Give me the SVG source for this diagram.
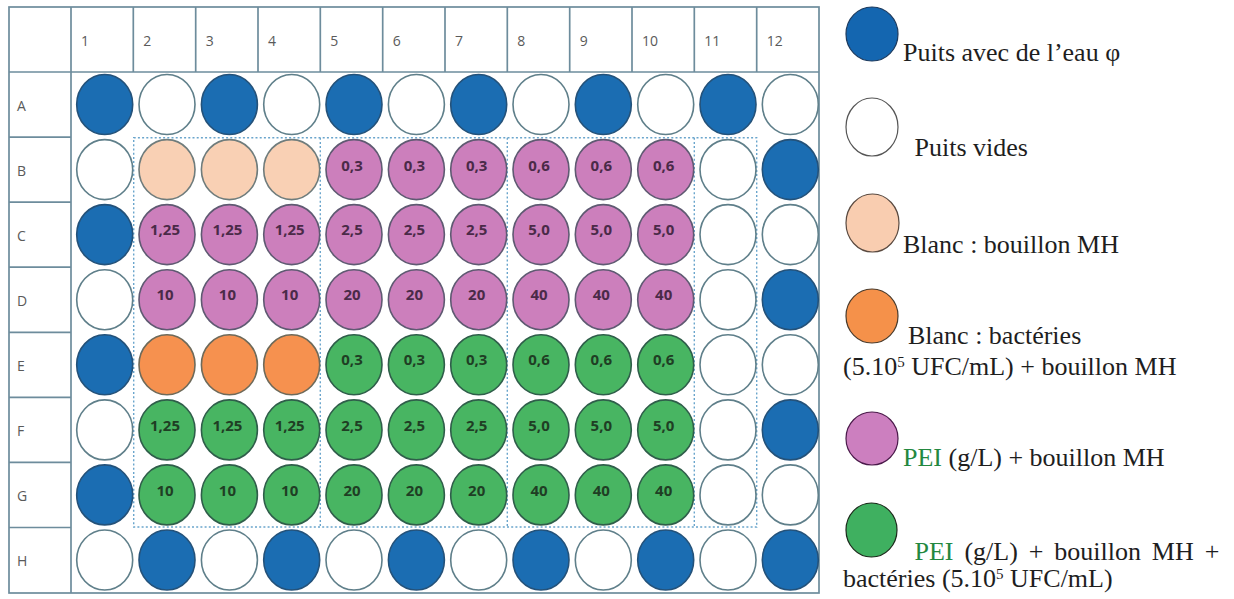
<svg xmlns="http://www.w3.org/2000/svg" width="1234" height="599" viewBox="0 0 1234 599">
<style>
.grid{stroke:#6d8c9c;stroke-width:1.7;fill:none}
.dot{stroke:#6aa5cc;stroke-width:1.4;stroke-dasharray:2 2.2;fill:none}
.lbl{font-family:"Open Sans","Liberation Sans",sans-serif;font-size:14px;fill:#5a5a5a}
.w{stroke-width:1.6}
.e{fill:#ffffff;stroke:#5f7f8a}
.b{fill:#1b6db2;stroke:#24527a}
.p{fill:#f9d0b4;stroke:#6f7c7c}
.o{fill:#f6914f;stroke:#6e6a5a}
.m{fill:#cc7fbc;stroke:#5f5a72}
.g{fill:#48b562;stroke:#2f5e4a}
.vm{font-family:"Open Sans","Liberation Sans",sans-serif;font-size:15px;font-weight:700;fill:#4a2a48;text-anchor:middle}
.vg{font-family:"Open Sans","Liberation Sans",sans-serif;font-size:15px;font-weight:700;fill:#1f3e24;text-anchor:middle}
.lg{font-family:"Liberation Serif","Times New Roman",serif;font-size:26px;fill:#1e1e1e}
.pei{fill:#23883f}
.sup{font-size:15px}
.lc{stroke-width:1.2}
</style>
<rect width="1234" height="599" fill="#ffffff"/>
<g id="plate-grid">
<rect class="grid" x="9" y="7" width="810" height="586"/>
<line class="grid" x1="9" y1="72" x2="819" y2="72"/>
<line class="grid" x1="71" y1="7" x2="71" y2="593"/>
<line class="grid" x1="133.3" y1="7" x2="133.3" y2="72"/>
<line class="grid" x1="195.7" y1="7" x2="195.7" y2="72"/>
<line class="grid" x1="258" y1="7" x2="258" y2="72"/>
<line class="grid" x1="320.3" y1="7" x2="320.3" y2="72"/>
<line class="grid" x1="382.7" y1="7" x2="382.7" y2="72"/>
<line class="grid" x1="445" y1="7" x2="445" y2="72"/>
<line class="grid" x1="507.3" y1="7" x2="507.3" y2="72"/>
<line class="grid" x1="569.7" y1="7" x2="569.7" y2="72"/>
<line class="grid" x1="632" y1="7" x2="632" y2="72"/>
<line class="grid" x1="694.3" y1="7" x2="694.3" y2="72"/>
<line class="grid" x1="756.7" y1="7" x2="756.7" y2="72"/>
<line class="grid" x1="9" y1="137.1" x2="71" y2="137.1"/>
<line class="grid" x1="9" y1="202.2" x2="71" y2="202.2"/>
<line class="grid" x1="9" y1="267.2" x2="71" y2="267.2"/>
<line class="grid" x1="9" y1="332.3" x2="71" y2="332.3"/>
<line class="grid" x1="9" y1="397.4" x2="71" y2="397.4"/>
<line class="grid" x1="9" y1="462.4" x2="71" y2="462.4"/>
<line class="grid" x1="9" y1="527.5" x2="71" y2="527.5"/>
</g>
<g id="headers" class="lbl">
<text x="81" y="46">1</text><text x="143.3" y="46">2</text><text x="205.7" y="46">3</text><text x="268" y="46">4</text>
<text x="330.3" y="46">5</text><text x="392.7" y="46">6</text><text x="455" y="46">7</text><text x="517.3" y="46">8</text>
<text x="579.7" y="46">9</text><text x="642" y="46">10</text><text x="704.3" y="46">11</text><text x="766.7" y="46">12</text>
<text x="17" y="110.5">A</text><text x="17" y="175.6">B</text><text x="17" y="240.6">C</text><text x="17" y="305.7">D</text>
<text x="17" y="370.8">E</text><text x="17" y="435.9">F</text><text x="17" y="500.9">G</text><text x="17" y="566">H</text>
</g>
<g id="connectors">
<rect class="dot" x="133.7" y="137.7" width="623" height="389.3"/>
<line class="dot" x1="320.3" y1="137.7" x2="320.3" y2="527"/>
<line class="dot" x1="507.3" y1="137.7" x2="507.3" y2="527"/>
<line class="dot" x1="694.3" y1="137.7" x2="694.3" y2="527"/>
</g>
<g id="wells">
<g id="A1"><ellipse class="w b" cx="104.7" cy="104.5" rx="28" ry="30"/></g>
<g id="A2"><ellipse class="w e" cx="167" cy="104.5" rx="28" ry="30"/></g>
<g id="A3"><ellipse class="w b" cx="229.4" cy="104.5" rx="28" ry="30"/></g>
<g id="A4"><ellipse class="w e" cx="291.7" cy="104.5" rx="28" ry="30"/></g>
<g id="A5"><ellipse class="w b" cx="354" cy="104.5" rx="28" ry="30"/></g>
<g id="A6"><ellipse class="w e" cx="416.4" cy="104.5" rx="28" ry="30"/></g>
<g id="A7"><ellipse class="w b" cx="478.7" cy="104.5" rx="28" ry="30"/></g>
<g id="A8"><ellipse class="w e" cx="541" cy="104.5" rx="28" ry="30"/></g>
<g id="A9"><ellipse class="w b" cx="603.3" cy="104.5" rx="28" ry="30"/></g>
<g id="A10"><ellipse class="w e" cx="665.7" cy="104.5" rx="28" ry="30"/></g>
<g id="A11"><ellipse class="w b" cx="728" cy="104.5" rx="28" ry="30"/></g>
<g id="A12"><ellipse class="w e" cx="790.3" cy="104.5" rx="28" ry="30"/></g>

<g id="B1"><ellipse class="w e" cx="104.7" cy="169.6" rx="28" ry="30"/></g>
<g id="B2"><ellipse class="w p" cx="167" cy="169.6" rx="28" ry="30"/></g>
<g id="B3"><ellipse class="w p" cx="229.4" cy="169.6" rx="28" ry="30"/></g>
<g id="B4"><ellipse class="w p" cx="291.7" cy="169.6" rx="28" ry="30"/></g>
<g id="B5"><ellipse class="w m" cx="354" cy="169.6" rx="28" ry="30"/><text class="vm" x="352" y="170.6">0,3</text></g>
<g id="B6"><ellipse class="w m" cx="416.4" cy="169.6" rx="28" ry="30"/><text class="vm" x="414.4" y="170.6">0,3</text></g>
<g id="B7"><ellipse class="w m" cx="478.7" cy="169.6" rx="28" ry="30"/><text class="vm" x="476.7" y="170.6">0,3</text></g>
<g id="B8"><ellipse class="w m" cx="541" cy="169.6" rx="28" ry="30"/><text class="vm" x="539" y="170.6">0,6</text></g>
<g id="B9"><ellipse class="w m" cx="603.3" cy="169.6" rx="28" ry="30"/><text class="vm" x="601.3" y="170.6">0,6</text></g>
<g id="B10"><ellipse class="w m" cx="665.7" cy="169.6" rx="28" ry="30"/><text class="vm" x="663.7" y="170.6">0,6</text></g>
<g id="B11"><ellipse class="w e" cx="728" cy="169.6" rx="28" ry="30"/></g>
<g id="B12"><ellipse class="w b" cx="790.3" cy="169.6" rx="28" ry="30"/></g>

<g id="C1"><ellipse class="w b" cx="104.7" cy="234.6" rx="28" ry="30"/></g>
<g id="C2"><ellipse class="w m" cx="167" cy="234.6" rx="28" ry="30"/><text class="vm" x="165" y="235.2">1,25</text></g>
<g id="C3"><ellipse class="w m" cx="229.4" cy="234.6" rx="28" ry="30"/><text class="vm" x="227.4" y="235.2">1,25</text></g>
<g id="C4"><ellipse class="w m" cx="291.7" cy="234.6" rx="28" ry="30"/><text class="vm" x="289.7" y="235.2">1,25</text></g>
<g id="C5"><ellipse class="w m" cx="354" cy="234.6" rx="28" ry="30"/><text class="vm" x="352" y="235.2">2,5</text></g>
<g id="C6"><ellipse class="w m" cx="416.4" cy="234.6" rx="28" ry="30"/><text class="vm" x="414.4" y="235.2">2,5</text></g>
<g id="C7"><ellipse class="w m" cx="478.7" cy="234.6" rx="28" ry="30"/><text class="vm" x="476.7" y="235.2">2,5</text></g>
<g id="C8"><ellipse class="w m" cx="541" cy="234.6" rx="28" ry="30"/><text class="vm" x="539" y="235.2">5,0</text></g>
<g id="C9"><ellipse class="w m" cx="603.3" cy="234.6" rx="28" ry="30"/><text class="vm" x="601.3" y="235.2">5,0</text></g>
<g id="C10"><ellipse class="w m" cx="665.7" cy="234.6" rx="28" ry="30"/><text class="vm" x="663.7" y="235.2">5,0</text></g>
<g id="C11"><ellipse class="w e" cx="728" cy="234.6" rx="28" ry="30"/></g>
<g id="C12"><ellipse class="w e" cx="790.3" cy="234.6" rx="28" ry="30"/></g>

<g id="D1"><ellipse class="w e" cx="104.7" cy="299.7" rx="28" ry="30"/></g>
<g id="D2"><ellipse class="w m" cx="167" cy="299.7" rx="28" ry="30"/><text class="vm" x="165" y="300.3">10</text></g>
<g id="D3"><ellipse class="w m" cx="229.4" cy="299.7" rx="28" ry="30"/><text class="vm" x="227.4" y="300.3">10</text></g>
<g id="D4"><ellipse class="w m" cx="291.7" cy="299.7" rx="28" ry="30"/><text class="vm" x="289.7" y="300.3">10</text></g>
<g id="D5"><ellipse class="w m" cx="354" cy="299.7" rx="28" ry="30"/><text class="vm" x="352" y="300.3">20</text></g>
<g id="D6"><ellipse class="w m" cx="416.4" cy="299.7" rx="28" ry="30"/><text class="vm" x="414.4" y="300.3">20</text></g>
<g id="D7"><ellipse class="w m" cx="478.7" cy="299.7" rx="28" ry="30"/><text class="vm" x="476.7" y="300.3">20</text></g>
<g id="D8"><ellipse class="w m" cx="541" cy="299.7" rx="28" ry="30"/><text class="vm" x="539" y="300.3">40</text></g>
<g id="D9"><ellipse class="w m" cx="603.3" cy="299.7" rx="28" ry="30"/><text class="vm" x="601.3" y="300.3">40</text></g>
<g id="D10"><ellipse class="w m" cx="665.7" cy="299.7" rx="28" ry="30"/><text class="vm" x="663.7" y="300.3">40</text></g>
<g id="D11"><ellipse class="w e" cx="728" cy="299.7" rx="28" ry="30"/></g>
<g id="D12"><ellipse class="w b" cx="790.3" cy="299.7" rx="28" ry="30"/></g>

<g id="E1"><ellipse class="w b" cx="104.7" cy="364.8" rx="28" ry="30"/></g>
<g id="E2"><ellipse class="w o" cx="167" cy="364.8" rx="28" ry="30"/></g>
<g id="E3"><ellipse class="w o" cx="229.4" cy="364.8" rx="28" ry="30"/></g>
<g id="E4"><ellipse class="w o" cx="291.7" cy="364.8" rx="28" ry="30"/></g>
<g id="E5"><ellipse class="w g" cx="354" cy="364.8" rx="28" ry="30"/><text class="vg" x="352" y="365.4">0,3</text></g>
<g id="E6"><ellipse class="w g" cx="416.4" cy="364.8" rx="28" ry="30"/><text class="vg" x="414.4" y="365.4">0,3</text></g>
<g id="E7"><ellipse class="w g" cx="478.7" cy="364.8" rx="28" ry="30"/><text class="vg" x="476.7" y="365.4">0,3</text></g>
<g id="E8"><ellipse class="w g" cx="541" cy="364.8" rx="28" ry="30"/><text class="vg" x="539" y="365.4">0,6</text></g>
<g id="E9"><ellipse class="w g" cx="603.3" cy="364.8" rx="28" ry="30"/><text class="vg" x="601.3" y="365.4">0,6</text></g>
<g id="E10"><ellipse class="w g" cx="665.7" cy="364.8" rx="28" ry="30"/><text class="vg" x="663.7" y="365.4">0,6</text></g>
<g id="E11"><ellipse class="w e" cx="728" cy="364.8" rx="28" ry="30"/></g>
<g id="E12"><ellipse class="w e" cx="790.3" cy="364.8" rx="28" ry="30"/></g>

<g id="F1"><ellipse class="w e" cx="104.7" cy="429.9" rx="28" ry="30"/></g>
<g id="F2"><ellipse class="w g" cx="167" cy="429.9" rx="28" ry="30"/><text class="vg" x="165" y="430.5">1,25</text></g>
<g id="F3"><ellipse class="w g" cx="229.4" cy="429.9" rx="28" ry="30"/><text class="vg" x="227.4" y="430.5">1,25</text></g>
<g id="F4"><ellipse class="w g" cx="291.7" cy="429.9" rx="28" ry="30"/><text class="vg" x="289.7" y="430.5">1,25</text></g>
<g id="F5"><ellipse class="w g" cx="354" cy="429.9" rx="28" ry="30"/><text class="vg" x="352" y="430.5">2,5</text></g>
<g id="F6"><ellipse class="w g" cx="416.4" cy="429.9" rx="28" ry="30"/><text class="vg" x="414.4" y="430.5">2,5</text></g>
<g id="F7"><ellipse class="w g" cx="478.7" cy="429.9" rx="28" ry="30"/><text class="vg" x="476.7" y="430.5">2,5</text></g>
<g id="F8"><ellipse class="w g" cx="541" cy="429.9" rx="28" ry="30"/><text class="vg" x="539" y="430.5">5,0</text></g>
<g id="F9"><ellipse class="w g" cx="603.3" cy="429.9" rx="28" ry="30"/><text class="vg" x="601.3" y="430.5">5,0</text></g>
<g id="F10"><ellipse class="w g" cx="665.7" cy="429.9" rx="28" ry="30"/><text class="vg" x="663.7" y="430.5">5,0</text></g>
<g id="F11"><ellipse class="w e" cx="728" cy="429.9" rx="28" ry="30"/></g>
<g id="F12"><ellipse class="w b" cx="790.3" cy="429.9" rx="28" ry="30"/></g>

<g id="G1"><ellipse class="w b" cx="104.7" cy="494.9" rx="28" ry="30"/></g>
<g id="G2"><ellipse class="w g" cx="167" cy="494.9" rx="28" ry="30"/><text class="vg" x="165" y="495.5">10</text></g>
<g id="G3"><ellipse class="w g" cx="229.4" cy="494.9" rx="28" ry="30"/><text class="vg" x="227.4" y="495.5">10</text></g>
<g id="G4"><ellipse class="w g" cx="291.7" cy="494.9" rx="28" ry="30"/><text class="vg" x="289.7" y="495.5">10</text></g>
<g id="G5"><ellipse class="w g" cx="354" cy="494.9" rx="28" ry="30"/><text class="vg" x="352" y="495.5">20</text></g>
<g id="G6"><ellipse class="w g" cx="416.4" cy="494.9" rx="28" ry="30"/><text class="vg" x="414.4" y="495.5">20</text></g>
<g id="G7"><ellipse class="w g" cx="478.7" cy="494.9" rx="28" ry="30"/><text class="vg" x="476.7" y="495.5">20</text></g>
<g id="G8"><ellipse class="w g" cx="541" cy="494.9" rx="28" ry="30"/><text class="vg" x="539" y="495.5">40</text></g>
<g id="G9"><ellipse class="w g" cx="603.3" cy="494.9" rx="28" ry="30"/><text class="vg" x="601.3" y="495.5">40</text></g>
<g id="G10"><ellipse class="w g" cx="665.7" cy="494.9" rx="28" ry="30"/><text class="vg" x="663.7" y="495.5">40</text></g>
<g id="G11"><ellipse class="w e" cx="728" cy="494.9" rx="28" ry="30"/></g>
<g id="G12"><ellipse class="w e" cx="790.3" cy="494.9" rx="28" ry="30"/></g>

<g id="H1"><ellipse class="w e" cx="104.7" cy="560" rx="28" ry="30"/></g>
<g id="H2"><ellipse class="w b" cx="167" cy="560" rx="28" ry="30"/></g>
<g id="H3"><ellipse class="w e" cx="229.4" cy="560" rx="28" ry="30"/></g>
<g id="H4"><ellipse class="w b" cx="291.7" cy="560" rx="28" ry="30"/></g>
<g id="H5"><ellipse class="w e" cx="354" cy="560" rx="28" ry="30"/></g>
<g id="H6"><ellipse class="w b" cx="416.4" cy="560" rx="28" ry="30"/></g>
<g id="H7"><ellipse class="w e" cx="478.7" cy="560" rx="28" ry="30"/></g>
<g id="H8"><ellipse class="w b" cx="541" cy="560" rx="28" ry="30"/></g>
<g id="H9"><ellipse class="w e" cx="603.3" cy="560" rx="28" ry="30"/></g>
<g id="H10"><ellipse class="w b" cx="665.7" cy="560" rx="28" ry="30"/></g>
<g id="H11"><ellipse class="w e" cx="728" cy="560" rx="28" ry="30"/></g>
<g id="H12"><ellipse class="w b" cx="790.3" cy="560" rx="28" ry="30"/></g>
</g>
<g id="legend">
<g id="leg-water"><ellipse class="lc" cx="872" cy="34" rx="26" ry="27" fill="#1466b0" stroke="#1c3a5e"/><text class="lg" x="903" y="61">Puits avec de l’eau φ</text></g>
<g id="leg-empty"><ellipse class="lc" cx="872" cy="127" rx="26" ry="29" fill="#ffffff" stroke="#555555"/><text class="lg" x="914.5" y="156">Puits vides</text></g>
<g id="leg-blank-mh"><ellipse class="lc" cx="872.5" cy="223" rx="26.5" ry="29" fill="#f9cdb0" stroke="#5a4a40"/><text class="lg" x="903" y="253">Blanc : bouillon MH</text></g>
<g id="leg-blank-bact"><ellipse class="lc" cx="872" cy="316" rx="26" ry="27" fill="#f5914a" stroke="#4a3a2a"/><text class="lg" x="908" y="344">Blanc : bactéries</text><text class="lg" x="843" y="375">(5.10<tspan class="sup" dy="-8">5</tspan><tspan dy="8"> UFC/mL) + bouillon MH</tspan></text></g>
<g id="leg-pei"><ellipse class="lc" cx="872" cy="438.5" rx="26" ry="26.5" fill="#cc7fbf" stroke="#4a1a4a"/><text class="lg" x="903" y="465.5"><tspan class="pei">PEI</tspan> (g/L) + bouillon MH</text></g>
<g id="leg-pei-bact"><ellipse class="lc" cx="871.5" cy="530" rx="25.5" ry="27" fill="#3fb060" stroke="#1a2a1a"/><text class="lg" x="914.5" y="560" word-spacing="4.4"><tspan class="pei">PEI</tspan> (g/L) + bouillon MH +</text><text class="lg" x="843" y="587">bactéries (5.10<tspan class="sup" dy="-8">5</tspan><tspan dy="8"> UFC/mL)</tspan></text></g>
</g>
</svg>
